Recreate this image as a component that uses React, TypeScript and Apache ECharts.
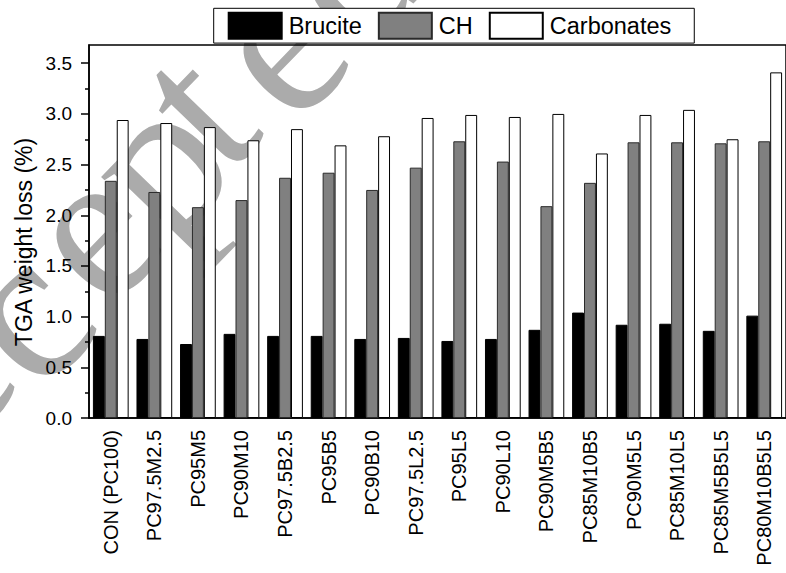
import React, { useEffect, useRef } from "react";
import * as echarts from "echarts";

const categories = [
  "CON (PC100)", "PC97.5M2.5", "PC95M5", "PC90M10", "PC97.5B2.5", "PC95B5",
  "PC90B10", "PC97.5L2.5", "PC95L5", "PC90L10", "PC90M5B5", "PC85M10B5",
  "PC90M5L5", "PC85M10L5", "PC85M5B5L5", "PC80M10B5L5",
];
const brucite = [0.81, 0.78, 0.73, 0.83, 0.81, 0.81, 0.78, 0.79, 0.76, 0.78, 0.87, 1.04, 0.92, 0.93, 0.86, 1.01];
const ch = [2.34, 2.23, 2.08, 2.15, 2.37, 2.42, 2.25, 2.47, 2.73, 2.53, 2.09, 2.32, 2.72, 2.72, 2.71, 2.73];
const carbonates = [2.94, 2.91, 2.87, 2.74, 2.85, 2.69, 2.78, 2.96, 2.99, 2.97, 3.0, 2.61, 2.99, 3.04, 2.75, 3.41];
const yMajorTicks = [0, 0.5, 1.0, 1.5, 2.0, 2.5, 3.0, 3.5];
const yMinorTicks = [0.25, 0.75, 1.25, 1.75, 2.25, 2.75, 3.25];
const yTitle = "TGA weight loss (%)";
const watermarkLetters = ["c", "c", "e", "p", "t", "e", "d"];

const FONT = "'Liberation Sans', Arial, Helvetica, sans-serif";

// watermark letter anchor positions (decoration only)
const WM_POS: [number, number][] = [
  [-62, 370], [20, 312], [88, 229], [154, 160], [194, 106], [275, 44], [345, -30],
];

export default function App() {
  const ref = useRef<HTMLDivElement>(null);
  useEffect(() => {
    document.body.style.margin = "0";
    const chart = echarts.init(ref.current!, null, { renderer: "svg" });
    const theta = (46 * Math.PI) / 180;
    const wm = watermarkLetters.map((ch, i) => ({
      type: "text",
      z: -10,
      x: WM_POS[i][0],
      y: WM_POS[i][1],
      rotation: theta,
      silent: true,
      style: {
        text: ch,
        fontFamily: "'Liberation Serif', 'Times New Roman', serif",
        fontSize: 215,
        fill: "#ababab",
        textAlign: "center",
        textVerticalAlign: "middle",
      },
    }));
    chart.setOption({
      animation: false,
      backgroundColor: "#ffffff",
      textStyle: { fontFamily: FONT },
      graphic: [
        ...wm,
        {
          type: "text",
          x: 24,
          y: 242,
          rotation: Math.PI / 2,
          style: {
            text: yTitle,
            fontFamily: FONT,
            fontSize: 23,
            fill: "#000",
            textAlign: "center",
            textVerticalAlign: "middle",
          },
        },
      ],
      legend: {
        left: 213.7,
        top: 8.3,
        padding: [3.4, 23, 3.4, 14],
        itemWidth: 53,
        itemHeight: 26,
        itemGap: 16,
        borderColor: "#000",
        borderWidth: 1,
        backgroundColor: "#fff",
        icon: "rect",
        textStyle: { fontSize: 23.5, fontFamily: FONT, color: "#000", lineHeight: 26, padding: [0, 0, 0, 2] },
        data: ["Brucite", "CH", "Carbonates"],
      },
      grid: {
        left: 89,
        top: 45,
        width: 704.6,
        height: 373,
        show: true,
        borderColor: "#000",
        borderWidth: 1.5,
        backgroundColor: "transparent",
      },
      xAxis: [
        {
          type: "category",
          data: categories,
          position: "bottom",
          boundaryGap: true,
          axisLine: { lineStyle: { color: "#000", width: 1.5 } },
          axisTick: { alignWithLabel: true, length: 9, lineStyle: { color: "#000", width: 1.5 } },
          axisLabel: {
            rotate: 90,
            interval: 0,
            margin: 12,
            fontSize: 20,
            color: "#000",
            fontFamily: FONT,
          },
          splitLine: { show: false },
        },
        {
          type: "category",
          data: categories,
          position: "bottom",
          boundaryGap: true,
          axisLine: { show: false },
          axisTick: { length: 4, interval: 0, lineStyle: { color: "#000", width: 1.5 } },
          axisLabel: { show: false },
          splitLine: { show: false },
        },
      ],
      yAxis: [
        {
          type: "value",
          min: 0,
          max: 3.68,
          interval: 0.5,
          axisLine: { show: true, lineStyle: { color: "#000", width: 1.5 } },
          axisTick: { show: true, length: 8, customValues: yMajorTicks, lineStyle: { color: "#000", width: 1.5 } },
          axisLabel: {
            customValues: yMajorTicks,
            margin: 17,
            fontSize: 19,
            color: "#000",
            fontFamily: FONT,
            formatter: (v: number) => v.toFixed(1),
          },
          splitLine: { show: false },
        },
        {
          type: "value",
          min: 0,
          max: 3.68,
          position: "left",
          axisLine: { show: false },
          axisTick: { show: true, length: 4, customValues: yMinorTicks, lineStyle: { color: "#000", width: 1.5 } },
          axisLabel: { show: false },
          splitLine: { show: false },
        },
      ],
      series: [
        {
          name: "Brucite",
          type: "bar",
          data: brucite,
          barGap: "0%",
          barCategoryGap: "18%",
          itemStyle: { color: "#000000", borderColor: "#000000", borderWidth: 1 },
        },
        {
          name: "CH",
          type: "bar",
          data: ch,
          barGap: "0%",
          barCategoryGap: "18%",
          itemStyle: { color: "#808080", borderColor: "#2a2a2a", borderWidth: 1 },
        },
        {
          name: "Carbonates",
          type: "bar",
          data: carbonates,
          barGap: "0%",
          barCategoryGap: "18%",
          itemStyle: { color: "#ffffff", borderColor: "#000000", borderWidth: 1 },
        },
      ],
    });
    return () => chart.dispose();
  }, []);
  return (
    <div
      ref={ref}
      style={{ width: 786, height: 573, position: "absolute", left: 0, top: 0 }}
    />
  );
}
